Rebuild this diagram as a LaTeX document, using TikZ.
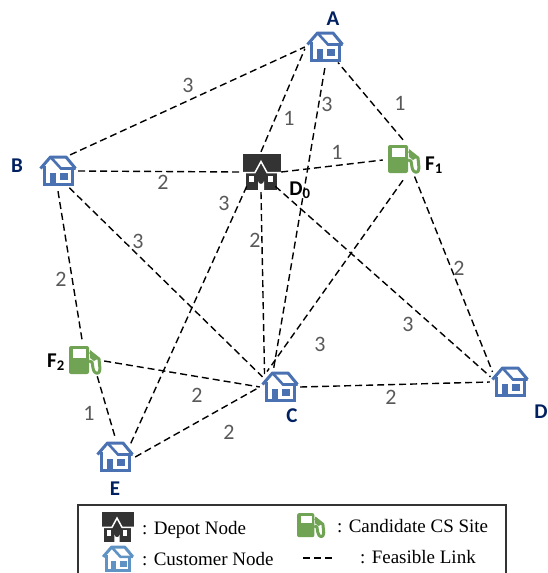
\documentclass[tikz,border=0pt]{standalone}
\usepackage{fontspec}
\setmainfont{Liberation Serif}
\newfontfamily\labelfont{Carlito}
\usetikzlibrary{positioning}

\definecolor{houseblue}{HTML}{4A72B2}
\definecolor{legendblue}{HTML}{5F93C4}
\definecolor{pumpgreen}{HTML}{70A353}
\definecolor{depotgray}{HTML}{333333}
\definecolor{navyname}{HTML}{002060}
\definecolor{costgray}{HTML}{595959}

\tikzset{
	hub/.style = {circle, minimum size = 40pt, inner sep = 0pt},
	link/.style = {black, line width = 1.4pt, dash pattern = on 7pt off 4pt},
	cost/.style = {inner sep = 0pt, text = costgray, font = \labelfont\fontsize{22}{22}\selectfont},
	sitename/.style = {inner sep = 0pt, text = navyname, font = \labelfont\bfseries\fontsize{21}{21}\selectfont},
	pumpname/.style = {sitename, text = black},
	legendtext/.style = {anchor = west, inner sep = 0pt, font = \fontsize{19}{19}\selectfont},
	pics/customer/.style = {code = {
		\draw[#1, line width = 3pt] (-14, -5) -- (-14, 13.5) -- (14, 13.5) -- (14, -3);
		\draw[#1, line width = 3pt, line join = round] (-17.5, -2.5) -- (-7.5, -14) -- (8, -14) -- (17.5, -2.5);
		\draw[#1, line width = 2.6pt] (-7.5, -14) -- (3, -2.5) -- (17.5, -2.5);
		\fill[#1] (-8, 2) rectangle (-2, 14);
		\fill[#1] (2, 2) rectangle (10, 9);
	}},
	pics/depot/.style = {code = {
		\fill[depotgray] (-18, -18) rectangle (20, 0);
		\fill[depotgray] (-15, 0) rectangle (16, 18);
		\fill[depotgray] (-6, 1) -- (0, -10) -- (6, 1) -- cycle;
		\draw[white, line width = 1.5pt] (-18, 0.5) -- (-6, 0.5) -- (0, -10.5) -- (6, 0.5) -- (20, 0.5);
		\fill[white] (-12, 4) rectangle (-7, 10);
		\fill[white] (7, 4) rectangle (12, 10);
		\fill[white] (-3, 18) -- (-3, 9) arc (180:0:3) -- (3, 18) -- cycle;
	}},
	pics/pump/.style = {code = {
		\fill[pumpgreen, rounded corners = 2pt] (-15, -15) rectangle (5, 13);
		\fill[white] (-11, -12) rectangle (2, -3);
		\draw[pumpgreen, line width = 3pt, line join = round] (6, -9) -- (15, -2) -- (16, 8)
			.. controls (16, 14) and (10, 14) .. (9, 7) -- (8, 1) -- (5, 0);
		\fill[pumpgreen] (6, -11) -- (15, -3) -- (10, 0) -- (6, -3) -- cycle;
	}}
}

\begin{document}
\begin{tikzpicture}[x=1pt, y=-1pt]

\useasboundingbox (0, 0) rectangle (547, 573);
\clip (0, 0) rectangle (547, 573);

% sites
\node[hub] (A) at (325, 47) {};
\node[hub] (B) at (58, 171) {};
\node[hub] (C) at (280, 387) {};
\node[hub] (D) at (510, 382) {};
\node[hub] (E) at (115, 457) {};
\node[hub] (D0) at (261, 172) {};
\node[hub] (F1) at (403, 160) {};
\node[hub] (F2) at (84, 361) {};

\foreach \site in {A, B, C, D, E}
	\pic at (\site) {customer = houseblue};
\pic at (D0) {depot};
\pic at (F1) {pump};
\pic at (F2) {pump};

% links
\foreach \from/\to in {B.53/A.180, D0.90/A.185, C.108/A.270, F1.90/A.-50, B.0/D0.180, B.270/F2.95,
		B.-56/C.150, D0.0/F1.180, D0.270/C.140, D0.-135/E.40, D0.-45/D.165, F1.270/C.130,
		F1.-55/D.150, F2.0/C.180, F2.-49/E.90, C.0/D.180, E.0/C.180}
	\draw[link] (\from) -- (\to);

% costs
\foreach \name/\x/\y/\val in {ab/188/85/3, ad/289/118/1, ac/327/104/3, af/400/103/1, bd/163/182/2,
		df/337/152/1, bc/138/241/3, bg/61/279/2, de/224/203/3, dc/255/240/2, fd/459/268/2,
		dd/408/324/3, fc/320/344/3, gc/197/395/2, cd/391/397/2, ce/229/432/2, ge/89/413/1}
	\node[cost] (cost\name) at (\x, \y) {\val};

% names
\node[sitename] (nameA) at (333, 19) {A};
\node[sitename] (nameB) at (17, 166) {B};
\node[sitename] (nameC) at (292, 416) {C};
\node[sitename] (nameD) at (541, 412) {D};
\node[sitename] (nameE) at (115, 489) {E};
\node[pumpname] (nameD0) at (300, 190) {D\textsubscript{0}};
\node[pumpname] (nameF1) at (434, 165) {F\textsubscript{1}};
\node[pumpname] (nameF2) at (56, 362) {F\textsubscript{2}};

% legend
\draw[line width = 1.1pt, draw = depotgray] (78, 505) rectangle (506, 590);
\pic[scale = 0.85] at (117, 527) {depot};
\pic[scale = 0.85] at (118, 559) {customer = legendblue};
\pic[scale = 0.86] at (310, 526) {pump};
\node[legendtext] (textdepot) at (142, 530) {: Depot Node};
\node[legendtext] (textcustomer) at (142, 559) {: Customer Node};
\node[legendtext] (textsite) at (337, 526) {: Candidate CS Site};
\node[legendtext] (textlink) at (360, 557) {: Feasible Link};
\coordinate (linkstart) at (303, 558);
\coordinate (linkend) at (333, 558);
\draw[link] (linkstart) -- (linkend);

\end{tikzpicture}
\end{document}
